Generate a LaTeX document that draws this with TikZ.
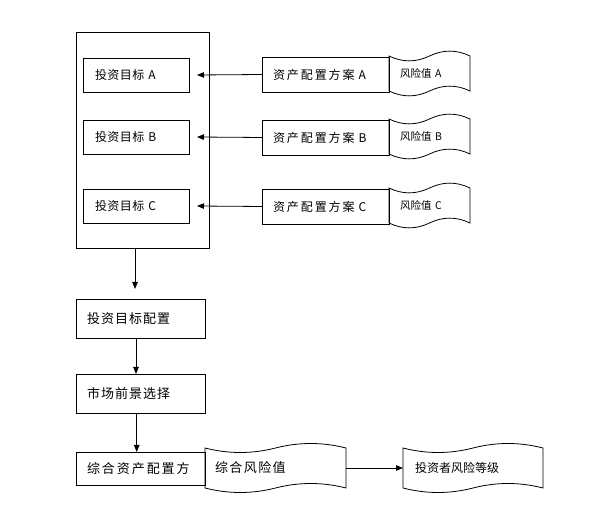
\documentclass[tikz,border=0pt]{standalone}
\usepackage{fontspec}
\setmainfont{Noto Sans CJK SC}
\newfontfamily\fga[LetterSpace=4]{Noto Sans CJK SC}
\newfontfamily\fgb[LetterSpace=16]{Noto Sans CJK SC}
\newfontfamily\fgc[LetterSpace=8]{Noto Sans CJK SC}
\newfontfamily\fgd[LetterSpace=15]{Noto Sans CJK SC}
\newfontfamily\fge[LetterSpace=11]{Noto Sans CJK SC}
\newfontfamily\fgf{Noto Sans CJK SC}
\usetikzlibrary{calc,arrows.meta}
\newcommand\tapeline[2]{%
  \draw[ln] (#1.north west)
    .. controls ($(#1.north west)!0.1667!(#1.north east)+(0,#2)$) and ($(#1.north west)!0.3333!(#1.north east)+(0,#2)$) .. (#1.north)
    .. controls ($(#1.north west)!0.6667!(#1.north east)+(0,-#2)$) and ($(#1.north west)!0.8333!(#1.north east)+(0,-#2)$) .. (#1.north east)
    -- (#1.south east)
    .. controls ($(#1.south west)!0.8333!(#1.south east)+(0,-#2)$) and ($(#1.south west)!0.6667!(#1.south east)+(0,-#2)$) .. (#1.south)
    .. controls ($(#1.south west)!0.3333!(#1.south east)+(0,#2)$) and ($(#1.south west)!0.1667!(#1.south east)+(0,#2)$) .. (#1.south west)
    -- cycle;}
\begin{document}
\begin{tikzpicture}[x=1pt,y=-1pt,
  ln/.style={line width=0.8pt},
  bx/.style={draw, line width=0.8pt, outer sep=0pt, inner ysep=0pt, anchor=north west, align=left},
  tp/.style={outer sep=0pt, inner ysep=0pt, anchor=north west, align=left},
  arr/.style={-{Triangle[length=7pt,width=5.5pt]}, line width=0.8pt},
  ga/.style={font=\fga\fontsize{12}{14}\selectfont},
  gb/.style={font=\fgb\fontsize{12}{14}\selectfont},
  gr/.style={font=\fgf\fontsize{10.5}{12}\selectfont}]
\useasboundingbox (0,0) rectangle (600,526);
\fill[white] (0,0) rectangle (600,526);

\node[bx, minimum width=133pt, minimum height=216pt] (outer) at (76,32) {};

\node[bx, ga, minimum height=34pt, inner xsep=12pt, text width=82pt] (gA) at (83,58) {投资目标 A};
\node[bx, ga, minimum height=34pt, inner xsep=12pt, text width=82pt] (gB) at (83,120) {投资目标 B};
\node[bx, ga, minimum height=34pt, inner xsep=12pt, text width=82pt] (gC) at (83,189) {投资目标 C};

\node[bx, gb, minimum height=35pt, inner xsep=11pt, text width=105pt] (pA) at (262,57) {资产配置方案 A};
\node[bx, gb, minimum height=35pt, inner xsep=11pt, text width=105pt] (pB) at (262,120) {资产配置方案 B};
\node[bx, gb, minimum height=35pt, inner xsep=11pt, text width=105pt] (pC) at (262,189) {资产配置方案 C};

\node[tp, gr, minimum height=35pt, inner xsep=11pt, text width=59pt] (rA) at (389,56) {风险值 A};
\node[tp, gr, minimum height=35pt, inner xsep=11pt, text width=59pt] (rB) at (389,119) {风险值 B};
\node[tp, gr, minimum height=35pt, inner xsep=11pt, text width=59pt] (rC) at (389,188) {风险值 C};
\tapeline{rA}{6.5}
\tapeline{rB}{6.5}
\tapeline{rC}{6.5}

\node[bx, font=\fgc\fontsize{13}{15}\selectfont, minimum height=39pt, inner xsep=11pt, text width=107pt] (cfg) at (76,299) {投资目标配置};
\node[bx, font=\fgc\fontsize{13}{15}\selectfont, minimum height=39pt, inner xsep=11pt, text width=107pt] (mkt) at (76,374) {市场前景选择};
\node[bx, font=\fgd\fontsize{13}{15}\selectfont, minimum height=33pt, inner xsep=11pt, text width=107pt] (comp) at (76,452) {综合资产配置方};

\node[tp, font=\fge\fontsize{13}{15}\selectfont, minimum height=40pt, inner xsep=10pt, text width=121pt] (crisk) at (205,448) {综合风险值};
\node[tp, font=\fgf\fontsize{12}{14}\selectfont, minimum height=40pt, inner xsep=12pt, text width=116pt] (inv) at (403,448) {投资者风险等级};
\tapeline{crisk}{6}
\tapeline{inv}{6}

\draw[arr] (pA.west) -- ([xshift=8pt]gA.east);
\draw[arr] (pB.west) -- ([xshift=8pt]gB.east);
\draw[arr] (pC.west) -- ([xshift=8pt]gC.east);

\coordinate (o1) at ([xshift=-7.5pt]outer.south);
\draw[arr, shorten >=10pt] (o1) -- (o1 |- cfg.north);
\draw[arr] ([xshift=-4.5pt]cfg.south) -- ([xshift=-4.5pt]mkt.north);
\draw[arr] ([xshift=-3.8pt]mkt.south) -- ([xshift=-3.8pt]comp.north);
\draw[arr] (crisk.east) -- (inv.west);
\end{tikzpicture}
\end{document}
